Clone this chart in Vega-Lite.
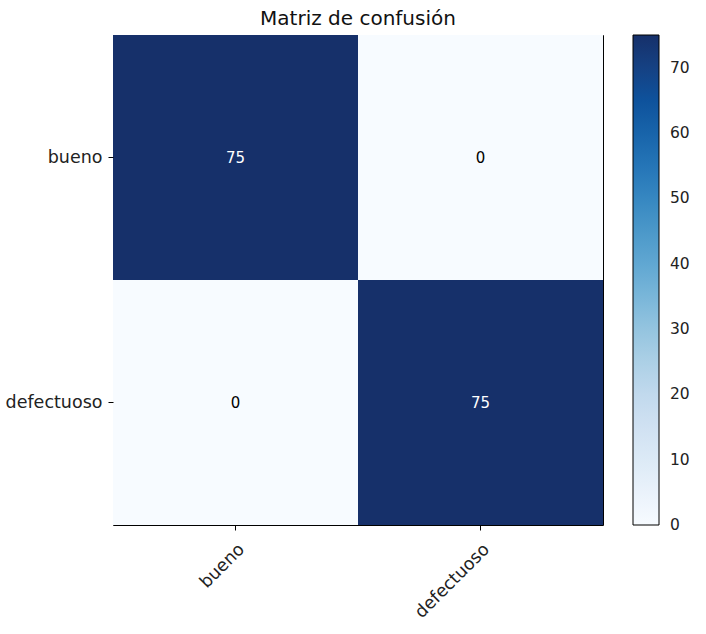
{
  "$schema": "https://vega.github.io/schema/vega-lite/v6.json",
  "autosize": "none",
  "padding": {"left": 113, "top": 35, "right": 103, "bottom": 109},
  "width": 490,
  "height": 490,
  "title": {"text": "Matriz de confusión", "fontSize": 20, "font": "DejaVu Sans", "fontWeight": "normal", "color": "#111", "offset": 6},
  "config": {
    "view": {"stroke": "black", "strokeWidth": 1},
    "font": "DejaVu Sans",
    "axis": {"labelFont": "DejaVu Sans", "labelFontSize": 17.5, "labelColor": "#222", "tickColor": "black", "tickSize": 5, "domain": false, "grid": false, "title": null, "labelPadding": 6}
  },
  "data": {"values": [
    {"real": "bueno", "pred": "bueno", "n": 75},
    {"real": "bueno", "pred": "defectuoso", "n": 0},
    {"real": "defectuoso", "pred": "bueno", "n": 0},
    {"real": "defectuoso", "pred": "defectuoso", "n": 75}
  ]},
  "encoding": {
    "x": {"field": "pred", "type": "nominal", "sort": ["bueno", "defectuoso"], "scale": {"paddingInner": 0, "paddingOuter": 0}, "axis": {"labelAngle": -45, "labelAlign": "right", "labelBaseline": "top", "labelPadding": 10}},
    "y": {"field": "real", "type": "nominal", "sort": ["bueno", "defectuoso"], "scale": {"paddingInner": 0, "paddingOuter": 0}}
  },
  "layer": [
    {
      "mark": {"type": "rect"},
      "encoding": {
        "color": {"field": "n", "type": "quantitative",
          "scale": {"domain": [0, 75], "range": ["#f7fbff", "#deebf7", "#c6dbef", "#9ecae1", "#6baed6", "#4292c6", "#2171b5", "#0d509a", "#16306a"]},
          "legend": {"title": null, "orient": "right", "offset": 30, "padding": 0, "gradientLength": 490, "gradientThickness": 26, "gradientStrokeColor": "black", "gradientStrokeWidth": 1, "values": [0, 10, 20, 30, 40, 50, 60, 70], "labelFontSize": 15.5, "labelFont": "DejaVu Sans", "labelColor": "#222", "labelOffset": 11, "labelOverlap": false, "direction": "vertical",
            "encode": {"labels": {"update": {"baseline": {"value": "middle"}}}}}
        }
      }
    },
    {
      "mark": {"type": "text", "fontSize": 15, "font": "DejaVu Sans"},
      "encoding": {
        "text": {"field": "n", "type": "quantitative"},
        "color": {"condition": {"test": "datum.n > 37.5", "value": "white"}, "value": "black"}
      }
    }
  ]
}
